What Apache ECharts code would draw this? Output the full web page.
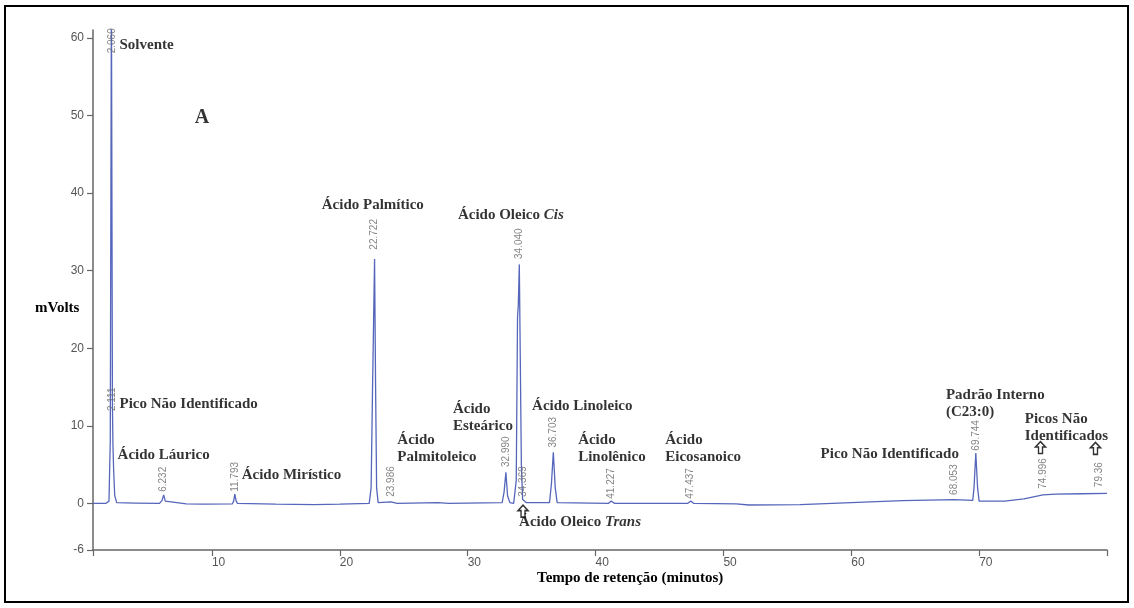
<!DOCTYPE html>
<html>
<head>
<meta charset="utf-8">
<script src="https://cdn.jsdelivr.net/npm/echarts@6/dist/echarts.min.js"></script>
<style>
html,body{margin:0;padding:0;background:#fff;}
#chart{width:1134px;height:608px;}
</style>
</head>
<body>
<div id="chart"></div>
<script>
// Chromatogram trace (retention time in minutes, signal in mVolts)
const retentionTime = [
  0.7, 1.7, 1.95, 2.05, 2.1, 2.14, 2.19, 2.22, 2.26, 2.31, 2.4, 2.55, 2.7,
  4.0, 5.9, 6.1, 6.23, 6.35, 6.5, 8.0, 9.3, 11.6, 11.7, 11.79, 11.9, 12.0,
  15.0, 18.0, 20.0, 22.3, 22.45, 22.55, 22.62, 22.72, 22.8, 22.88, 23.0,
  23.98, 24.5, 27.7, 28.5, 32.7, 32.85, 32.99, 33.12, 33.3, 33.6,
  33.8, 33.9, 33.96, 34.04, 34.12, 34.2, 34.3, 34.37, 34.6,
  36.4, 36.55, 36.7, 36.85, 37.0, 41.0, 41.23, 41.5, 47.2, 47.44, 47.7,
  51.0, 52.0, 56.0, 60.0, 64.0, 68.05, 69.5, 69.6, 69.74, 69.88, 70.0,
  72.0, 73.5, 75.0, 76.0, 78.0, 80.0
];
const signalMv = [
  0.0, 0.0, 0.3, 8, 40, 66, 66, 12.5, 7.5, 4.5, 1.0, 0.1, 0.0,
  0.05, 0.0, 0.4, 1.1, 0.3, 0.05, -0.05, -0.1, -0.05, 0.3, 1.2, 0.3, 0.0,
  -0.1, -0.15, -0.1, 0.0, 2, 13.5, 21, 31.5, 15, 2, 0.1,
  0.2, 0.0, 0.1, 0.0, 0.1, 1.5, 4.0, 1.0, 0.1, 0.0,
  3, 24, 25.5, 30.8, 18, 5, 0.5, 0.3, 0.1,
  0.1, 2.5, 6.6, 2.0, 0.1, 0.0, 0.3, 0.0, 0.0, 0.3, 0.0,
  -0.05, -0.2, -0.15, 0.1, 0.35, 0.5, 0.4, 2, 6.5, 2, 0.3,
  0.3, 0.6, 1.1, 1.2, 1.25, 1.3
];

// Retention-time labels printed above the peaks
const peakLabelText = ['2.060','2.111','6.232','11.793','22.722','23.986','32.990','34.040','34.369','36.703','41.227','47.437','68.053','69.744','74.996','79.36'];
const peakLabelTime = [2.17, 2.2, 6.232, 11.793, 22.722, 23.986, 32.99, 34.04, 34.369, 36.703, 41.227, 47.437, 68.053, 69.744, 74.996, 79.36];
const peakLabelMv   = [58.0, 11.9, 1.5, 1.5, 32.7, 0.85, 4.7, 31.5, 0.85, 7.2, 0.6, 0.6, 1.1, 6.8, 1.9, 2.1];

// Compound annotations (anchor = left / vertical middle of the text block)
const annotationText = [
  '{b|Solvente}',
  '{big|A}',
  '{b|Pico Não Identificado}',
  '{b|Ácido Láurico}',
  '{b|Ácido Mirístico}',
  '{b|Ácido Palmítico}',
  '{b|Ácido}\n{b|Palmitoleico}',
  '{b|Ácido Oleico }{i|Cis}',
  '{b|Ácido}\n{b|Esteárico}',
  '{b|Ácido Linoleico}',
  '{b|Ácido}\n{b|Linolênico}',
  '{b|Ácido}\n{b|Eicosanoico}',
  '{b|Ácido Oleico }{i|Trans}',
  '{b|Pico Não Identificado}',
  '{b|Padrão Interno}\n{b|(C23:0)}',
  '{b|Picos Não}\n{b|Identificados}'
];
const annotationTime = [2.77, 8.65, 2.77, 2.62, 12.33, 18.59, 24.5, 29.24, 28.85, 35.04, 38.64, 45.45, 34.02, 57.6, 67.4, 73.57];
const annotationMv   = [59.0, 49.7, 12.8, 6.2, 3.7, 38.5, 7.1, 37.2, 11.0, 12.6, 7.0, 7.0, -2.4, 6.3, 12.9, 9.8];

// Hollow arrows pointing at small peaks
const arrowTime = [34.33, 74.8, 79.1];
const arrowMv   = [-1.0, 7.2, 7.1];

// Axis ticks
const xTickValues  = [0.7, 10, 20, 30, 40, 50, 60, 70, 80];
const xLabelValues = [10, 20, 30, 40, 50, 60, 70];
const yTickValues  = [-6, 0, 10, 20, 30, 40, 50, 60];

const traceData = retentionTime.map((t, i) => [t, signalMv[i]]);
const peakLabelData = peakLabelTime.map((t, i) => ({ value: [t, peakLabelMv[i]], name: peakLabelText[i] }));
const annotationData = annotationTime.map((t, i) => ({ value: [t, annotationMv[i]], name: annotationText[i] }));
const arrowData = arrowTime.map((t, i) => [t, arrowMv[i]]);

const serif = '"Liberation Serif", "Times New Roman", serif';
const sans = '"Liberation Sans", Arial, sans-serif';
const axisColor = '#666';

const chart = echarts.init(document.getElementById('chart'), null, { renderer: 'canvas' });
chart.setOption({
  animation: false,
  backgroundColor: '#fff',
  grid: { left: 93, right: 27, top: 30, bottom: 58 },
  xAxis: {
    type: 'value', min: 0.7, max: 80,
    axisLine: { show: true, onZero: false, lineStyle: { color: axisColor, width: 1.5 } },
    axisTick: { show: true, customValues: xTickValues, length: 6, lineStyle: { color: axisColor, width: 1.2 } },
    axisLabel: { customValues: xLabelValues, align: 'left', margin: 7, color: '#555', fontFamily: sans, fontSize: 12 },
    splitLine: { show: false }
  },
  yAxis: {
    type: 'value', min: -6, max: 61,
    axisLine: { show: true, onZero: false, lineStyle: { color: axisColor, width: 1.5 } },
    axisTick: { show: true, customValues: yTickValues, length: 6, lineStyle: { color: axisColor, width: 1.2 } },
    axisLabel: { customValues: yTickValues, margin: 9, color: '#555', fontFamily: sans, fontSize: 12 },
    splitLine: { show: false }
  },
  graphic: [
    { type: 'rect', shape: { x: 5, y: 6, width: 1123, height: 596 }, style: { fill: 'none', stroke: '#000', lineWidth: 2 }, silent: true },
    { type: 'text', left: 35, top: 301, style: { text: 'mVolts', font: 'bold 15px ' + serif, fill: '#000' }, silent: true },
    { type: 'text', left: 537, top: 571, style: { text: 'Tempo de retenção (minutos)', font: 'bold 15px ' + serif, fill: '#000' }, silent: true }
  ],
  series: [
    {
      name: 'trace', type: 'line', data: traceData, showSymbol: false, symbol: 'none',
      lineStyle: { color: '#5566bb', width: 1.3 }, clip: true, silent: true, z: 3
    },
    {
      name: 'peakLabels', type: 'scatter', data: peakLabelData, symbolSize: 0, silent: true, z: 4,
      label: {
        show: true, position: [0, 0], rotate: 90, align: 'left', verticalAlign: 'middle',
        formatter: p => p.name, color: '#666', fontFamily: sans, fontSize: 10
      }
    },
    {
      name: 'annotations', type: 'scatter', data: annotationData, symbolSize: 0, silent: true, z: 5,
      label: {
        show: true, position: [0, 0], align: 'left', verticalAlign: 'middle',
        formatter: p => p.name,
        rich: {
          b: { fontFamily: serif, fontWeight: 'bold', fontSize: 15, color: '#000', lineHeight: 17 },
          i: { fontFamily: serif, fontWeight: 'bold', fontStyle: 'italic', fontSize: 15, color: '#000', lineHeight: 17 },
          big: { fontFamily: serif, fontWeight: 'bold', fontSize: 20, color: '#000', lineHeight: 22 }
        }
      }
    },
    {
      name: 'arrows', type: 'scatter', data: arrowData, silent: true, z: 6,
      symbol: 'path://M5,0 L10,5 L7,5 L7,11 L3,11 L3,5 L0,5 Z',
      symbolSize: [10, 12],
      itemStyle: { color: '#fff', borderColor: '#000', borderWidth: 1.5 }
    }
  ]
});
</script>
</body>
</html>
